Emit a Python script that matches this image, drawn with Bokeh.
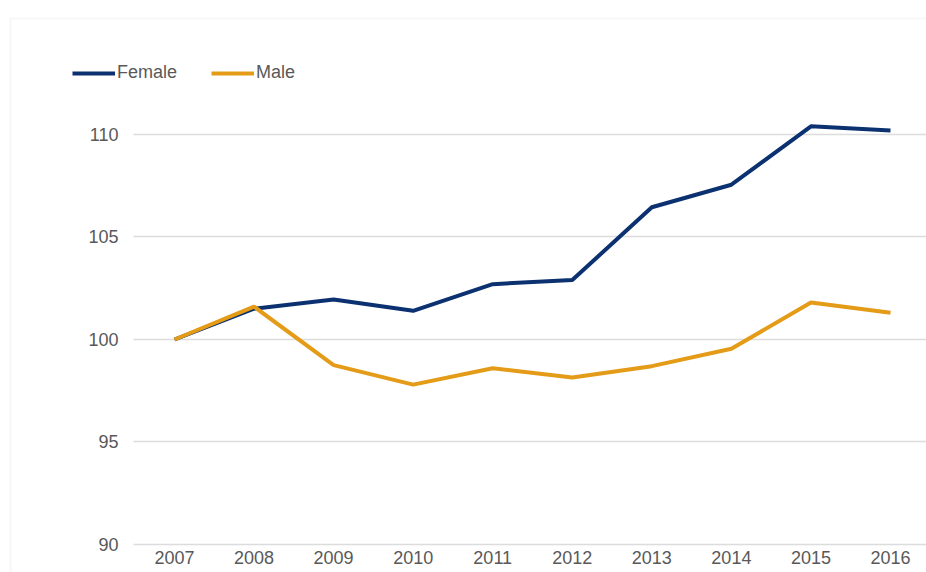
from bokeh.plotting import figure
from bokeh.models import ColumnDataSource, FixedTicker, Legend, LegendItem, BoxAnnotation, Range1d
from bokeh.embed import file_html
from bokeh.resources import INLINE

years = [2007, 2008, 2009, 2010, 2011, 2012, 2013, 2014, 2015, 2016]
female = [100.0, 101.5, 101.95, 101.4, 102.7, 102.9, 106.45, 107.55, 110.4, 110.2]
male = [100.0, 101.6, 98.75, 97.8, 98.6, 98.15, 98.7, 99.55, 101.8, 101.3]
y_ticks = [90, 95, 100, 105, 110]

FONT = "Liberation Sans"
TXT = "#595959"

p = figure(width=926, height=572, output_backend="svg", toolbar_location=None,
           x_range=Range1d(2004.9135, 2016.4525), y_range=Range1d(88.634, 115.756),
           min_border_left=8, min_border_right=0, min_border_top=16, min_border_bottom=0)
p.outline_line_color = None
p.background_fill_color = "white"
p.border_fill_color = "white"

src = ColumnDataSource(dict(year=years, female=female, male=male))
rf = p.line("year", "female", source=src, line_color="#0b3170", line_width=4)
rm = p.line("year", "male", source=src, line_color="#e49b17", line_width=4)

p.xgrid.grid_line_color = None
p.ygrid.grid_line_color = "#dcdcdc"
p.ygrid.grid_line_width = 1.5
p.ygrid.cross_bounds = (2006.485, 2016.4525)
p.yaxis.ticker = FixedTicker(ticks=y_ticks)
p.xaxis.ticker = FixedTicker(ticks=years)
for ax in (p.xaxis[0], p.yaxis[0]):
    ax.axis_line_color = None
    ax.major_tick_line_color = None
    ax.minor_tick_line_color = None
    ax.major_tick_out = 0
    ax.major_tick_in = 0
    ax.major_label_text_font = FONT
    ax.major_label_text_font_size = "18px"
    ax.major_label_text_color = TXT
p.yaxis.major_label_standoff = -110
p.xaxis.major_label_standoff = -22

legend = Legend(items=[LegendItem(label="Female", renderers=[rf]),
                       LegendItem(label="Male", renderers=[rm])],
                location=(64, 489), orientation="horizontal")
legend.label_text_font = FONT
legend.label_text_font_size = "18px"
legend.label_text_color = TXT
legend.glyph_width = 43
legend.glyph_height = 20
legend.label_standoff = 2
legend.spacing = 34
legend.padding = 0
legend.margin = 0
legend.border_line_color = None
legend.background_fill_alpha = 0
p.add_layout(legend, "center")

box = BoxAnnotation(left=10, right=3000, top=18, bottom=3000,
                    left_units="canvas", right_units="canvas",
                    top_units="canvas", bottom_units="canvas",
                    fill_alpha=0, line_color="#e3e3e3", line_width=2)
p.add_layout(box)

open("out.html", "w").write(file_html(p, INLINE))
